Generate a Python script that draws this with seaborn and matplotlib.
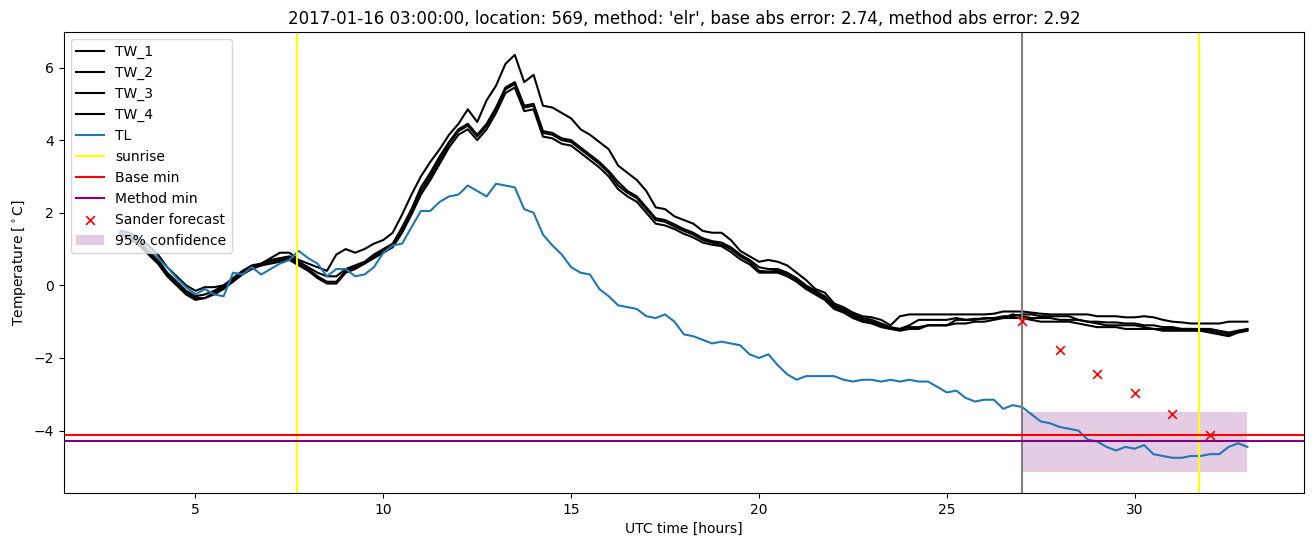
import numpy as np
import pandas as pd
import matplotlib
matplotlib.use("Agg")
import matplotlib.pyplot as plt
import seaborn as sns
from matplotlib.patches import Rectangle

plt.rcParams['font.family'] = ['DejaVu Sans']

# time axis: 3h .. 33h in quarter hours
hours = [3 + 0.25 * i for i in range(121)]

TL = [1.45, 1.40, 1.25, 1.00,
      0.75, 0.50, 0.20, -0.05,
      -0.25, -0.10, -0.25, -0.30,
      0.35, 0.30, 0.50, 0.30,
      0.45, 0.60, 0.70, 0.95,
      0.75, 0.60, 0.25, 0.45,
      0.45, 0.25, 0.30, 0.50,
      0.90, 1.10, 1.15, 1.60,
      2.05, 2.05, 2.30, 2.45,
      2.50, 2.75, 2.60, 2.45,
      2.80, 2.75, 2.70, 2.10,
      2.00, 1.40, 1.10, 0.85,
      0.50, 0.35, 0.30, -0.10,
      -0.30, -0.55, -0.60, -0.65,
      -0.85, -0.90, -0.80, -1.00,
      -1.35, -1.40, -1.50, -1.60,
      -1.55, -1.60, -1.65, -1.90,
      -2.00, -1.90, -2.20, -2.45,
      -2.60, -2.50, -2.50, -2.50,
      -2.50, -2.60, -2.65, -2.60,
      -2.60, -2.65, -2.60, -2.65,
      -2.60, -2.65, -2.65, -2.80,
      -2.95, -2.90, -3.10, -3.20,
      -3.15, -3.15, -3.40, -3.30,
      -3.35, -3.55, -3.75, -3.80,
      -3.90, -3.95, -4.00, -4.25,
      -4.30, -4.45, -4.55, -4.45,
      -4.50, -4.40, -4.65, -4.70,
      -4.75, -4.75, -4.70, -4.70,
      -4.65, -4.65, -4.45, -4.35,
      -4.45]

TW_1 = [1.50, 1.45, 1.30, 1.10,
        0.85, 0.50, 0.25, 0.00,
        -0.15, -0.05, -0.05, 0.00,
        0.15, 0.35, 0.50, 0.60,
        0.75, 0.90, 0.90, 0.70,
        0.60, 0.50, 0.40, 0.85,
        1.00, 0.90, 1.00, 1.15,
        1.25, 1.45, 1.95, 2.50,
        3.00, 3.40, 3.75, 4.15,
        4.45, 4.85, 4.50, 5.10,
        5.50, 6.10, 6.35, 5.60,
        5.80, 4.95, 4.90, 4.75,
        4.60, 4.30, 4.15, 3.95,
        3.75, 3.30, 3.10, 2.90,
        2.60, 2.15, 2.10, 1.90,
        1.80, 1.70, 1.50, 1.45,
        1.45, 1.25, 0.95, 0.80,
        0.65, 0.70, 0.65, 0.55,
        0.35, 0.15, -0.10, -0.20,
        -0.50, -0.60, -0.75, -0.85,
        -0.88, -0.95, -1.10, -0.85,
        -0.80, -0.80, -0.80, -0.80,
        -0.80, -0.80, -0.80, -0.80,
        -0.80, -0.78, -0.72, -0.72,
        -0.72, -0.75, -0.78, -0.80,
        -0.80, -0.80, -0.80, -0.80,
        -0.85, -0.85, -0.85, -0.88,
        -0.88, -0.85, -0.88, -0.95,
        -1.00, -1.02, -1.05, -1.05,
        -1.05, -1.05, -1.00, -1.00,
        -1.00]

TW_2 = [1.45, 1.40, 1.20, 0.95,
        0.70, 0.35, 0.10, -0.15,
        -0.30, -0.25, -0.15, 0.00,
        0.20, 0.40, 0.55, 0.60,
        0.70, 0.75, 0.80, 0.65,
        0.50, 0.35, 0.25, 0.25,
        0.45, 0.55, 0.65, 0.85,
        1.00, 1.15, 1.60, 2.10,
        2.70, 3.10, 3.55, 3.95,
        4.30, 4.45, 4.15, 4.45,
        4.90, 5.45, 5.60, 4.95,
        5.00, 4.25, 4.20, 4.05,
        4.00, 3.80, 3.60, 3.40,
        3.15, 2.85, 2.60, 2.45,
        2.15, 1.85, 1.80, 1.68,
        1.55, 1.45, 1.30, 1.22,
        1.18, 1.05, 0.85, 0.70,
        0.50, 0.45, 0.45, 0.35,
        0.20, 0.00, -0.15, -0.30,
        -0.55, -0.65, -0.80, -0.90,
        -0.95, -1.05, -1.15, -1.20,
        -1.10, -0.95, -0.95, -0.95,
        -0.95, -0.90, -0.95, -0.95,
        -0.90, -0.90, -0.85, -0.85,
        -0.80, -0.80, -0.85, -0.85,
        -0.85, -0.85, -0.95, -1.00,
        -1.00, -1.02, -1.02, -1.05,
        -1.05, -1.10, -1.10, -1.15,
        -1.15, -1.20, -1.20, -1.20,
        -1.20, -1.25, -1.30, -1.25,
        -1.20]

TW_3 = [1.45, 1.35, 1.15, 0.90,
        0.65, 0.30, 0.05, -0.20,
        -0.35, -0.35, -0.20, -0.05,
        0.15, 0.35, 0.50, 0.55,
        0.65, 0.70, 0.75, 0.60,
        0.45, 0.25, 0.10, 0.10,
        0.40, 0.50, 0.60, 0.80,
        0.95, 1.10, 1.50, 2.00,
        2.60, 3.00, 3.45, 3.90,
        4.25, 4.40, 4.10, 4.40,
        4.85, 5.40, 5.55, 4.90,
        4.95, 4.20, 4.15, 4.00,
        3.95, 3.75, 3.55, 3.35,
        3.10, 2.75, 2.55, 2.40,
        2.10, 1.80, 1.75, 1.62,
        1.50, 1.40, 1.25, 1.18,
        1.12, 1.00, 0.80, 0.65,
        0.40, 0.38, 0.40, 0.30,
        0.15, -0.05, -0.20, -0.35,
        -0.60, -0.70, -0.85, -0.95,
        -1.00, -1.10, -1.20, -1.20,
        -1.15, -1.15, -1.10, -1.10,
        -1.10, -0.95, -0.95, -0.92,
        -0.92, -0.90, -0.90, -0.80,
        -0.85, -0.90, -0.90, -0.90,
        -0.95, -0.95, -0.95, -1.00,
        -1.05, -1.10, -1.10, -1.10,
        -1.10, -1.15, -1.20, -1.20,
        -1.20, -1.20, -1.20, -1.22,
        -1.25, -1.30, -1.35, -1.25,
        -1.22]

TW_4 = [1.40, 1.30, 1.10, 0.85,
        0.60, 0.25, 0.00, -0.25,
        -0.40, -0.35, -0.25, -0.10,
        0.10, 0.30, 0.45, 0.55,
        0.60, 0.65, 0.70, 0.55,
        0.40, 0.20, 0.05, 0.05,
        0.35, 0.45, 0.60, 0.75,
        0.90, 1.05, 1.45, 1.95,
        2.50, 2.90, 3.35, 3.80,
        4.15, 4.30, 4.00, 4.30,
        4.75, 5.30, 5.45, 4.80,
        4.85, 4.10, 4.05, 3.90,
        3.85, 3.65, 3.45, 3.25,
        3.00, 2.65, 2.45, 2.30,
        2.00, 1.70, 1.65, 1.55,
        1.42, 1.32, 1.18, 1.12,
        1.08, 0.92, 0.72, 0.58,
        0.35, 0.35, 0.35, 0.25,
        0.10, -0.10, -0.25, -0.40,
        -0.65, -0.75, -0.90, -1.00,
        -1.05, -1.15, -1.20, -1.25,
        -1.20, -1.20, -1.10, -1.10,
        -1.10, -1.05, -1.05, -1.00,
        -1.00, -0.95, -0.90, -0.90,
        -0.90, -0.95, -1.00, -1.00,
        -1.00, -1.00, -1.05, -1.10,
        -1.15, -1.15, -1.15, -1.20,
        -1.20, -1.20, -1.20, -1.25,
        -1.25, -1.25, -1.25, -1.25,
        -1.30, -1.35, -1.40, -1.30,
        -1.25]

sunrise_hours = [7.71, 31.70]
forecast_time = 27.0
base_min = -4.13
method_min = -4.29
sander_hours = [27, 28, 29, 30, 31, 32]
sander_values = [-0.99, -1.79, -2.45, -2.97, -3.55, -4.13]
conf_low = -5.14
conf_high = -3.48
conf_end = 33.0

title = ("2017-01-16 03:00:00, location: 569, method: 'elr', "
         "base abs error: 2.74, method abs error: 2.92")

fig = plt.figure(figsize=(13.13, 5.47), dpi=100)
ax = fig.add_axes([0.0487, 0.0987, 0.9443, 0.8428])

for name, vals in [("TW_1", TW_1), ("TW_2", TW_2), ("TW_3", TW_3), ("TW_4", TW_4)]:
    sns.lineplot(x=hours, y=vals, color="black", label=name, ax=ax, linewidth=1.5)
sns.lineplot(x=hours, y=TL, color="#1f77b4", label="TL", ax=ax, linewidth=1.5)

for i, s in enumerate(sunrise_hours):
    ax.axvline(s, color="yellow", label="sunrise" if i == 0 else None, linewidth=1.5)
ax.axvline(forecast_time, color="grey", linewidth=1.5)
ax.axhline(base_min, color="red", label="Base min", linewidth=1.5)
ax.axhline(method_min, color="purple", label="Method min", linewidth=1.5)
sns.scatterplot(x=sander_hours, y=sander_values, marker="x", color="red",
                s=40, linewidth=1.2, label="Sander forecast", ax=ax, zorder=5)
ax.add_patch(Rectangle((forecast_time, conf_low), conf_end - forecast_time,
                       conf_high - conf_low, facecolor="purple", alpha=0.2,
                       edgecolor="none", label="95% confidence"))

ax.set_xlim(1.5, 34.5)
ax.set_ylim(-5.72, 6.98)
ax.set_xticks([5, 10, 15, 20, 25, 30])
ax.set_yticks([-4, -2, 0, 2, 4, 6])
ax.set_xlabel("UTC time [hours]")
ax.set_ylabel(r"Temperature [$^\circ$C]")
ax.set_title(title)
ax.legend(loc="upper left")

fig.savefig("out.png", dpi=100)
